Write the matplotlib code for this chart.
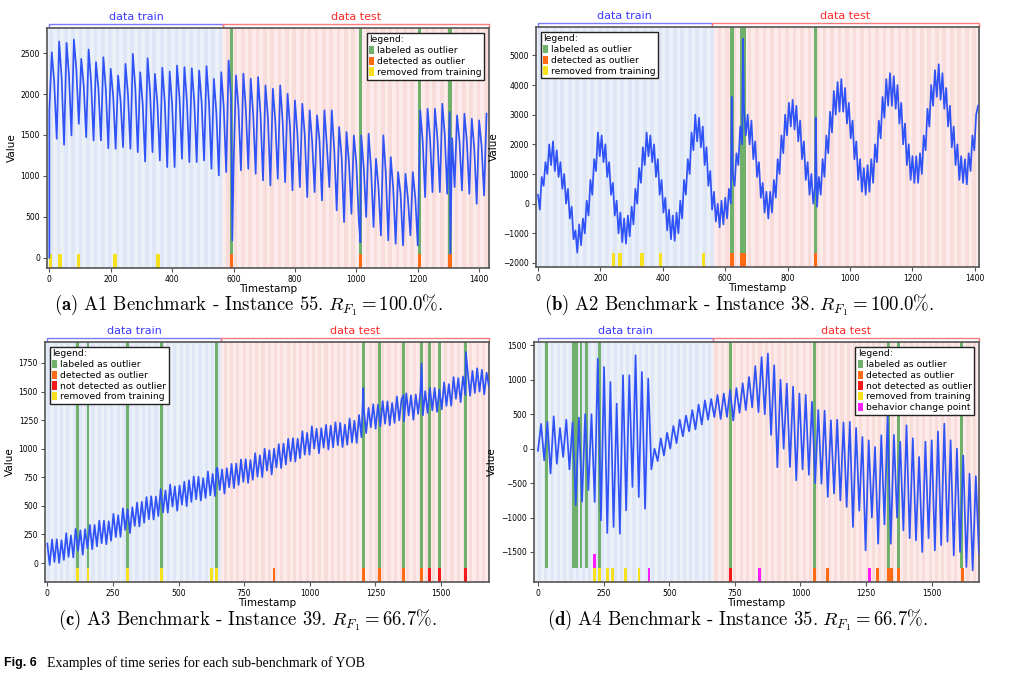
import numpy as np
import matplotlib.pyplot as plt
from matplotlib.patches import Patch
from matplotlib.ticker import MultipleLocator

plt.rcParams['mathtext.fontset'] = 'cm'

# colours
LINE = '#3053f7'
GREEN = '#6fb06a'
ORANGE = '#ff6a14'
RED = '#f41a1a'
YELLOW = '#f6e11c'
MAGENTA = '#ff1cff'
TRAIN_BG, TRAIN_STRIPE = '#ecf0f9', '#dfe6f5'
TEST_BG, TEST_STRIPE = '#fcebea', '#f7dcda'

# ---------------- A1 instance 55 (one cycle = trough, peak, shoulder, 8 steps apart)
a_trough = [1800, 1453, 1380, 1494, 1636, 1473, 1432, 1432, 1338, 1331,
            1351, 1331, 1290, 1176, 1290, 1188, 1107, 1107, 1209, 1168,
            1168, 1188, 1087, 1005, 1046, 1100, 1067, 1087, 1026, 945,
            884, 965, 924, 823, 863, 741, 802, 700, 863, 578,
            436, 537, 456, 497, 375, 273, 212, 171, 151, 273,
            151, 741, 802, 802, 782, 863, 823, 782, 660, 761]
a_peak = [2510, 2641, 2625, 2666, 2430, 2543, 2389, 2450, 2308, 2226,
          2369, 2491, 2266, 2437, 2246, 2320, 2275, 2348, 2328, 2315,
          2287, 2340, 2185, 2266, 2409, 2227, 2248, 2187, 2207, 2105,
          2064, 2105, 2003, 1922, 1881, 1800, 1739, 1800, 1800, 1596,
          1535, 1494, 1494, 1515, 1209, 1494, 1230, 1046, 1026, 1046,
          1800, 1820, 1820, 1881, 1779, 1739, 1759, 1698, 1678, 1759]
a_shoulder = [2140, 2200, 2230, 2300, 2100, 2150, 2060, 2060, 1970, 1920,
              2000, 2070, 1880, 2030, 1880, 1900, 1870, 1950, 1920, 1910,
              1900, 1900, 1770, 1840, 1940, 1830, 1820, 1750, 1740, 1710,
              1670, 1660, 1600, 1510, 1500, 1420, 1430, 1370, 1320, 1230,
              1160, 1150, 1100, 1080, 860, 1030, 850, 780, 720, 730,
              1430, 1460, 1460, 1500, 1460, 1420, 1420, 1340, 1360]
a_spike_t = [0, 596, 1013, 1306]
a_spike_v = [0, 210, 190, 50]
a_labeled = [593, 1014, 1205, 1305]
a_detected = [593, 1014, 1205, 1305]
a_missed = []
a_removed = [3, 35, 94, 214, 354]
a_change = []

# ---------------- A2 instance 38 (one value every 6 timestamps)
b_values = [300, -200, 900, 600, 1400, 1000, 2000, 1300, 2100, 1100,
            1800, 900, 1400, 500, 1000, 0, 500, -500, -100, -1200,
            -900, -1650, -700, -1400, -500, -1000, 100, -400, 800, 300,
            1500, 1100, 2400, 1600, 2300, 1400, 2000, 900, 1400, 300,
            700, -400, 100, -1000, -300, -1300, -500, -1350, -400, -1100,
            -100, -700, 500, 0, 1200, 700, 1900, 1300, 2400, 1600,
            2300, 1400, 2000, 900, 1500, 300, 800, -300, 200, -900,
            -200, -1200, -400, -1250, -300, -1000, 100, -500, 800, 300,
            1500, 1000, 2400, 1800, 3000, 2100, 2900, 1900, 2600, 1300,
            1900, 600, 1100, -200, 400, -600, 0, -800, 100, -700,
            200, -500, 500, 0, 1000, 600, 1700, 1300, 2600, 2000,
            3200, 2300, 3000, 2000, 2800, 1500, 2100, 900, 1400, 200,
            700, -300, 400, -500, 400, -300, 800, 200, 1500, 1000,
            2300, 1700, 3000, 2300, 3400, 2600, 3500, 2500, 3300, 2100,
            2800, 1500, 2100, 800, 1400, 300, 1000, 0, 600, -100,
            900, 300, 1500, 900, 2300, 1700, 3100, 2400, 3800, 3000,
            4100, 3100, 4200, 3100, 3900, 2700, 3400, 2200, 2800, 1500,
            2100, 800, 1500, 400, 1200, 300, 1300, 400, 1500, 700,
            2000, 1400, 2800, 2200, 3600, 2900, 4200, 3300, 4400, 3300,
            4300, 3200, 4000, 2700, 3400, 2000, 2700, 1300, 2000, 800,
            1600, 700, 1600, 700, 1700, 1000, 2300, 1800, 3200, 2600,
            4000, 3300, 4500, 3600, 4700, 3500, 4400, 3200, 3900, 2600,
            3300, 1900, 2600, 1300, 2000, 800, 1600, 700, 1500, 650,
            1700, 1100, 2300, 1800, 3000, 3300]
b_spike_t = [621, 657, 890]
b_spike_v = [3600, 5560, 2900]
b_labeled = [621, 652, 662, 890]
b_detected = [621, 652, 662, 890]
b_missed = []
b_removed = [242, 263, 333, 393, 531]
b_change = []

# ---------------- A3 instance 39 (one value every 9 timestamps)
c_values = [170, -17, 206, 10, 208, 1, 199, 27, 261, 54,
            242, 50, 298, 107, 285, 73, 296, 129, 333, 121,
            333, 146, 370, 173, 371, 164, 365, 195, 431, 227,
            418, 229, 479, 290, 471, 262, 488, 324, 529, 320,
            536, 352, 577, 383, 584, 380, 581, 411, 647, 443,
            634, 441, 687, 494, 670, 457, 678, 510, 711, 498,
            724, 535, 757, 558, 755, 546, 743, 569, 801, 592,
            779, 586, 832, 640, 818, 607, 830, 663, 867, 655,
            870, 683, 906, 710, 908, 701, 900, 728, 961, 755,
            943, 751, 1000, 808, 986, 775, 1000, 835, 1040, 830,
            1045, 861, 1086, 891, 1092, 887, 1087, 917, 1153, 948,
            1138, 948, 1196, 1001, 1175, 960, 1179, 1009, 1208, 993,
            1202, 1012, 1231, 1031, 1226, 1015, 1210, 1034, 1264, 1054,
            1245, 1050, 1295, 1100, 1350, 1136, 1357, 1188, 1389, 1175,
            1385, 1196, 1417, 1218, 1414, 1205, 1400, 1226, 1457, 1248,
            1433, 1239, 1485, 1291, 1467, 1253, 1474, 1305, 1505, 1291,
            1502, 1313, 1534, 1335, 1531, 1322, 1518, 1344, 1580, 1375,
            1565, 1376, 1626, 1436, 1617, 1407, 1632, 1468, 1673, 1463,
            1680, 1487, 1703, 1499, 1690, 1475, 1665, 1540]
c_spike_t = [645, 1204, 1357, 1426, 1595]
c_spike_v = [830, 1530, 1470, 1745, 1845]
c_labeled = [114, 155, 305, 436, 645, 1204, 1265, 1357, 1426, 1456, 1496, 1595]
c_detected = [864, 1204, 1265, 1357, 1426]
c_missed = [1456, 1496, 1595]
c_removed = [114, 155, 305, 436, 624, 645]
c_change = []

# ---------------- A4 instance 35 (one value every 12 timestamps)
d_values = [-30, 360, -170, 390, -360, 470, -220, 300, -120, 420,
            -300, 380, -820, 450, -770, 500, -600, 500, -774, 1306,
            -1040, 1185, -1224, 968, -1137, 653, -1234, 1065, -895, 1065,
            -556, 1355, -702, 1113, -871, 1016, -300, 0, -180, 150,
            -100, 230, 0, 330, 80, 420, 180, 480, 250, 560,
            280, 640, 350, 700, 420, 720, 460, 780, 430, 800,
            460, 850, 410, 880, 520, 950, 560, 1040, 600, 1200,
            530, 1330, 500, 1380, 200, 1210, -270, 1000, 0, 944,
            -266, 900, -460, 800, -300, 780, -380, 680, -500, 560,
            -508, 550, -700, 411, -650, 420, -750, 380, -847, 390,
            -1137, 300, -900, 170, -1476, 120, -1000, 24, -1379, 194,
            -1100, 480, -1380, 200, -1000, 100, -1186, 339, -1300, 150,
            -1331, -121, -1500, 100, -1300, 121, -1476, 250, -1400, 363,
            -1350, 121, -1550, 0, -1500, -100, -1718, -363, -1766, -400,
            -1524]
d_spike_t = []
d_spike_v = []
d_labeled = [34, 134, 146, 164, 184, 235, 734, 1054, 1334, 1374, 1614]
d_detected = [1054, 1103, 1294, 1334, 1346, 1374, 1616]
d_missed = [734]
d_removed = [215, 235, 265, 284, 334, 385]
d_change = [215, 423, 845, 1264]

W = 11         # marker width in timestamps
STRIP = 0.058  # height of one marker row (axes fraction)


def merge(t, v, st, sv):
    tt = np.concatenate([np.asarray(st, float), np.asarray(t, float)])
    vv = np.concatenate([np.asarray(sv, float), np.asarray(v, float)])
    order = np.argsort(tt, kind='stable')
    return tt[order], vv[order]


def span(ax, x, y0, y1, color):
    ax.axvspan(x - W / 2, x + W / 2, ymin=y0, ymax=y1, color=color, lw=0, zorder=2)


def panel(rect, t, v, split, xlim, ylim, xstep, ystep, labeled, detected,
          missed, removed, change, loc, caption, cap_xy):
    ax = fig.add_axes(rect)
    ax.set_xlim(*xlim)
    ax.set_ylim(*ylim)

    # striped background for train / test part
    ax.axvspan(xlim[0], split, color=TRAIN_BG, lw=0, zorder=0)
    ax.axvspan(split, xlim[1], color=TEST_BG, lw=0, zorder=0)
    for s in np.arange(0, xlim[1], 24):
        c = TRAIN_STRIPE if s < split else TEST_STRIPE
        ax.axvspan(s, s + 12, color=c, lw=0, zorder=0.5)

    for x in labeled:
        span(ax, x, STRIP, 1, GREEN)
    bottom = []
    for lst, col in ((removed, YELLOW), (detected, ORANGE), (missed, RED)):
        for x in lst:
            span(ax, x, 0, STRIP, col)
            bottom.append(x)
    for x in change:
        lvl = 1 if any(abs(x - b) < W for b in bottom) else 0
        span(ax, x, lvl * STRIP, (lvl + 1) * STRIP, MAGENTA)

    ax.plot(t, v, color=LINE, lw=1.25, zorder=3)

    # train / test brackets
    tr = ax.get_xaxis_transform()
    ax.plot([0, 0, split, split], [1.006, 1.017, 1.017, 1.006], color='#7b7bff',
            lw=1.0, transform=tr, clip_on=False)
    ax.plot([split, split, xlim[1], xlim[1]], [1.006, 1.017, 1.017, 1.006],
            color='#ff7b7b', lw=1.0, transform=tr, clip_on=False)
    ax.text(split / 2, 1.045, 'data train', color='#3a3aff', fontsize=8,
            ha='center', va='center', transform=tr)
    ax.text((split + xlim[1]) / 2, 1.045, 'data test', color='#ff2a2a', fontsize=8,
            ha='center', va='center', transform=tr)

    ax.xaxis.set_major_locator(MultipleLocator(xstep))
    ax.yaxis.set_major_locator(MultipleLocator(ystep))
    ax.tick_params(labelsize=5.5, length=3, width=0.8, color='#555', pad=2)
    for sp in ax.spines.values():
        sp.set_color('#555')
        sp.set_linewidth(1.2)
    ax.set_xlabel('Timestamp', fontsize=7.5, labelpad=0)
    ax.set_ylabel('Value', fontsize=7.5, labelpad=3)

    handles = [Patch(facecolor=GREEN, edgecolor='none')]
    labels = ['labeled as outlier']
    handles.append(Patch(facecolor=ORANGE, edgecolor='none'))
    labels.append('detected as outlier')
    if missed:
        handles.append(Patch(facecolor=RED, edgecolor='none'))
        labels.append('not detected as outlier')
    handles.append(Patch(facecolor=YELLOW, edgecolor='none'))
    labels.append('removed from training')
    if change:
        handles.append(Patch(facecolor=MAGENTA, edgecolor='none'))
        labels.append('behavior change point')
    leg = ax.legend(handles, labels, title='legend:', loc=loc, fontsize=6.7,
                    title_fontsize=6.7, alignment='left', handlelength=0.5,
                    handleheight=1.0, handletextpad=0.3, labelspacing=0.15,
                    borderpad=0.3, borderaxespad=0.5, fancybox=False,
                    framealpha=1, edgecolor='#222')
    leg.get_frame().set_linewidth(1.0)
    leg.set_zorder(5)

    fig.text(cap_xy[0], cap_xy[1], caption, fontsize=13.5, ha='center', va='center')
    return ax


fig = plt.figure(figsize=(10.13, 6.82), dpi=100)

# A1
a_vals = np.empty(len(a_trough) + len(a_peak) + len(a_shoulder))
a_vals[0::3] = a_trough
a_vals[1::3] = a_peak
a_vals[2::3] = a_shoulder
ta, va = merge(np.arange(len(a_vals)) * 8, a_vals, a_spike_t, a_spike_v)
panel([0.0464, 0.6070, 0.4363, 0.3519], ta, va, 565, (-7.6, 1432), (-126, 2806),
      200, 500, a_labeled, a_detected, a_missed, a_removed, a_change, 'upper right',
      r'$\mathbf{(a)}\ \text{A1 Benchmark - Instance 55.}\ R_{F_1} = 100.0\%.$',
      (0.245, 0.553))

# A2
tb, vb = merge(np.arange(len(b_values)) * 6, b_values, b_spike_t, b_spike_v)
panel([0.5291, 0.6085, 0.4373, 0.3519], tb, vb, 557, (-6.4, 1413), (-2135, 5955),
      200, 1000, b_labeled, b_detected, b_missed, b_removed, b_change, 'upper left',
      r'$\mathbf{(b)}\ \text{A2 Benchmark - Instance 38.}\ R_{F_1} = 100.0\%.$',
      (0.7295, 0.553))

# A3
tc, vc = merge(np.arange(len(c_values)) * 9, c_values, c_spike_t, c_spike_v)
panel([0.0444, 0.1466, 0.4383, 0.3519], tc, vc, 662, (-8.9, 1683), (-166, 1933),
      250, 250, c_labeled, c_detected, c_missed, c_removed, c_change, 'upper left',
      r'$\mathbf{(c)}\ \text{A3 Benchmark - Instance 39.}\ R_{F_1} = 66.7\%.$',
      (0.244, 0.091))

# A4
td, vd = merge(np.arange(len(d_values)) * 12, d_values, d_spike_t, d_spike_v)
panel([0.5271, 0.1466, 0.4393, 0.3519], td, vd, 667, (-15.2, 1680), (-1936, 1548),
      250, 500, d_labeled, d_detected, d_missed, d_removed, d_change, 'upper right',
      r'$\mathbf{(d)}\ \text{A4 Benchmark - Instance 35.}\ R_{F_1} = 66.7\%.$',
      (0.728, 0.091))

fig.text(0.004, 0.028, 'Fig. 6', fontsize=9, weight='bold', family='Liberation Sans',
         va='center')
fig.text(0.046, 0.028, 'Examples of time series for each sub-benchmark of YOB',
         fontsize=10, family='Liberation Serif', va='center')

fig.savefig('out.png', dpi=100)
